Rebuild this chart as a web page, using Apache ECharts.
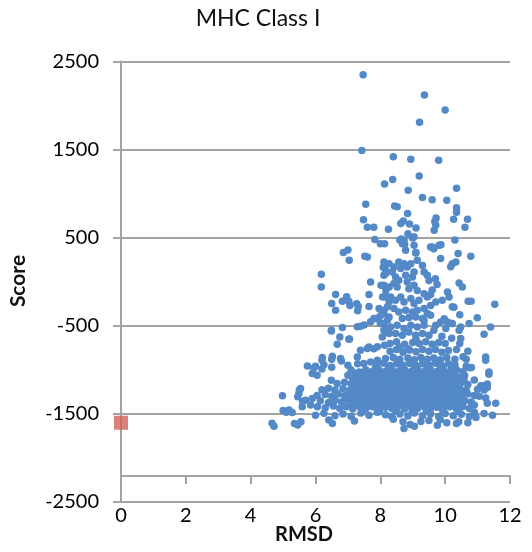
<!DOCTYPE html>
<html>
<head>
<meta charset="utf-8">
<script src="https://cdn.jsdelivr.net/npm/echarts@6/dist/echarts.min.js"></script>
<style>html,body{margin:0;padding:0;background:#fff}#c{width:532px;height:552px}</style>
</head>
<body>
<div id="c"></div>
<script>
var chartTitle = 'MHC Class I';
var xName = 'RMSD';
var yName = 'Score';
var xTicks = [0, 2, 4, 6, 8, 10, 12];
var yTicks = [-2500, -1500, -500, 500, 1500, 2500];

// native structure (red square)
var nativePoints = [[0, -1600]];

// decoys (blue dots): [RMSD, Score]
var decoyPoints = [
[7.47,2350],[9.36,2120],[10.0,1950],[9.21,1810],[7.43,1490],[8.40,1420],[8.94,1390],[9.80,1380],[9.20,1200],[8.38,1160],
[8.13,1110],[10.35,1060],[8.86,1040],[9.30,955],[9.60,930],[10.05,925],[7.55,880],[8.44,860],[8.52,850],[10.35,840],
[10.35,790],[8.84,775],[7.48,705],[9.72,725],[10.26,710],[10.69,710],[9.68,685],[7.60,620],[7.80,620],[8.25,595],
[8.63,660],[8.71,690],[8.90,655],[9.10,610],[9.71,640],[9.66,585],[10.61,620],[8.85,545],[9.00,500],[7.83,480],
[8.00,430],[8.13,430],[8.60,475],[8.75,425],[9.60,395],[9.87,420],[10.30,475],[7.00,360],[8.65,485],[8.99,500],
[8.73,470],[8.68,430],[8.78,357],[9.04,510],[9.04,415],[9.55,395],[9.65,375],[9.81,415],
[6.86,331],[7.04,244],[7.52,290],[7.60,280],[9.10,331],[9.86,263],[10.40,320],[10.79,289],
[9.09,325],[9.14,245],[10.33,225],[10.22,205],[10.17,170],
[8.11,225],[8.27,205],[8.42,167],[8.57,225],[8.63,150],[8.73,205],[8.83,167],[8.94,205],[9.04,110],[8.16,90],
[8.37,110],[8.47,55],[8.78,75],[8.99,55],[9.30,185],[9.35,110],[9.45,75],[8.09,165],[8.16,130],[8.11,75],
[9.50,15],[9.70,35],[9.75,-30],[9.60,-95],[9.55,-145],
[8.42,-20],[8.57,17],[8.52,-60],[8.83,-3],[8.88,-80],[9.04,-40],[9.14,-100],[8.27,-60],[8.11,-40],
[10.43,-13],[10.53,-59],[10.07,-115],[10.12,-172],[9.91,-210],[9.71,-230],[9.55,-270],[9.45,-172],[9.35,-135],
[6.18,85],[6.18,-59],[7.70,-3],[8.19,-172],[6.62,-145],[7.65,-145],[6.50,-247],[6.62,-323],
[6.83,-220],[6.96,-170],[7.03,-220],[7.06,-270],[7.27,-250],[7.32,-280],[7.30,-330],[7.65,-280],
[7.96,-305],[8.11,-323],[7.86,-417],[7.70,-455],[7.39,-505],[7.29,-510],[6.83,-520],[6.49,-550],
[8.16,-153],[8.32,-172],[8.47,-210],[8.63,-172],[8.73,-229],[8.94,-190],[9.04,-247],[9.19,-210],
[8.22,-285],[8.42,-304],[8.57,-342],[8.78,-323],[8.99,-342],[9.14,-323],[9.35,-304],[9.45,-360],
[8.11,-360],[8.27,-399],[8.68,-417],[8.88,-406],[9.09,-399],[9.30,-417],[9.55,-380],
[10.22,-285],[10.27,-290],[10.71,-221],[11.53,-255],[10.99,-410],[11.40,-513],[10.74,-474],
[10.48,-513],[10.22,-474],[10.07,-456],[9.86,-456],[9.71,-493],[10.02,-531],[10.43,-550],[9.65,-550],
[8.11,-474],[8.32,-513],[8.52,-493],[8.73,-531],[8.94,-493],[9.14,-513],[9.35,-493],
[8.22,-569],[8.47,-587],[8.68,-607],[8.88,-569],[9.09,-607],[9.30,-587],[9.50,-607],[10.48,-644],[11.20,-595],
[8.02,-40],[8.17,-95],[8.07,-172],[8.27,-229],[8.02,-380],[8.22,-437],[8.11,-550],[8.27,-587],[7.96,-406],[7.80,-417],
[10.45,-375],[10.80,-220],[9.97,-420],[10.20,-475],[9.35,-440],[7.50,-490],[8.00,-475],[8.20,-550],
[6.49,-558],[6.75,-626],[7.03,-652],[6.67,-709],[7.05,-650],[8.06,-626],[8.30,-700],[8.50,-680],[8.75,-710],
[9.00,-690],[9.20,-700],[9.40,-680],[9.60,-710],[9.80,-690],[10.00,-700],[10.20,-640],[10.45,-700],[9.10,-650],[9.90,-620],
[7.39,-777],[7.60,-758],[7.91,-739],[8.13,-720],[8.30,-790],[8.50,-770],[8.70,-800],[8.90,-775],[9.10,-795],[9.30,-770],
[9.50,-790],[9.70,-770],[9.90,-800],[10.10,-780],[10.35,-770],[10.70,-790],[7.65,-740],[8.60,-740],[8.85,-760],[7.80,-760],
[6.21,-860],[6.52,-845],[6.77,-871],[6.20,-890],[6.50,-880],[6.80,-900],[7.29,-853],[7.91,-890],[8.16,-871],[8.40,-860],
[8.60,-880],[8.85,-865],[9.05,-885],[9.25,-860],[9.45,-880],[9.65,-865],[9.85,-885],[10.05,-860],[10.30,-880],[10.55,-850],
[10.65,-880],[11.25,-890],[11.25,-853],
[5.75,-955],[6.00,-958],[6.26,-943],[7.00,-947],[7.30,-930],[7.49,-928],[7.70,-910],[7.90,-940],[8.10,-925],[8.30,-950],
[8.50,-930],[8.70,-945],[8.90,-925],[9.10,-950],[9.30,-930],[9.50,-945],[9.70,-925],[9.90,-950],[10.10,-930],[10.30,-945],[10.65,-960],
[7.10,-1003],[7.35,-1023],[7.55,-1000],[7.75,-1020],[7.95,-1000],[8.15,-1020],[8.35,-1000],[8.55,-1020],[8.75,-1000],[8.95,-1020],
[9.15,-1000],[9.35,-1020],[9.55,-1000],[9.75,-1020],[9.95,-1000],[10.15,-1020],[10.35,-1000],[10.55,-1020],[10.81,-973],[10.75,-975],
[5.95,-980],[6.20,-990],[6.50,-970],
[5.90,-1041],[6.05,-1060],[7.00,-1060],[7.20,-1080],[7.40,-1065],[7.60,-1085],[7.80,-1060],[8.00,-1080],[8.20,-1065],[8.40,-1085],
[8.60,-1060],[8.80,-1080],[9.00,-1065],[9.20,-1085],[9.40,-1060],[9.60,-1080],[9.80,-1065],[10.00,-1085],[10.20,-1060],[10.40,-1080],
[10.60,-1065],[11.35,-1050],[11.35,-1023],
[6.49,-1117],[6.67,-1154],[6.90,-1140],[7.10,-1160],[7.30,-1145],[7.50,-1165],[7.70,-1140],[7.90,-1160],[8.10,-1145],[8.30,-1165],
[8.50,-1140],[8.70,-1160],[8.90,-1145],[9.10,-1165],[9.30,-1140],[9.50,-1160],[9.70,-1145],[9.90,-1165],[10.10,-1140],[10.30,-1160],
[10.50,-1145],[10.70,-1165],[10.90,-1115],[11.10,-1180],[11.20,-1180],[11.30,-1160],
[5.50,-1230],[5.54,-1211],[6.20,-1225],[6.40,-1210],[6.60,-1230],[6.85,-1215],[7.05,-1235],[7.25,-1210],[7.45,-1230],[7.65,-1215],
[7.85,-1235],[8.05,-1210],[8.25,-1230],[8.45,-1215],[8.65,-1235],[8.85,-1210],[9.05,-1230],[9.25,-1215],[9.45,-1235],[9.65,-1210],
[9.85,-1230],[10.05,-1215],[10.25,-1235],[10.45,-1210],[10.65,-1230],[11.00,-1220],[11.20,-1230],[11.30,-1200],
[4.98,-1295],[5.45,-1305],[5.49,-1268],[6.05,-1290],[6.30,-1280],[6.50,-1300],[6.70,-1275],[6.90,-1295],[7.10,-1280],[7.30,-1300],
[7.50,-1275],[7.70,-1295],[7.90,-1280],[8.10,-1300],[8.30,-1275],[8.50,-1295],[8.70,-1280],[8.90,-1300],[9.10,-1275],[9.30,-1295],
[9.50,-1280],[9.70,-1300],[9.90,-1275],[10.10,-1295],[10.30,-1280],[10.50,-1300],[10.70,-1275],[10.90,-1290],
[5.60,-1360],[5.69,-1344],[5.90,-1325],[6.15,-1350],[6.40,-1370],[6.60,-1345],[6.80,-1365],[7.00,-1340],[7.20,-1370],[7.40,-1350],
[7.60,-1365],[7.80,-1340],[8.00,-1370],[8.20,-1350],[8.40,-1365],[8.60,-1340],[8.80,-1370],[9.00,-1350],[9.20,-1365],[9.40,-1340],
[9.60,-1370],[9.80,-1350],[10.00,-1365],[10.20,-1340],[10.40,-1370],[10.60,-1350],[10.80,-1365],[11.05,-1300],[11.25,-1320],
[5.59,-1420],[5.85,-1400],[6.06,-1420],[6.30,-1430],[6.55,-1410],[6.75,-1440],[6.95,-1420],[7.15,-1445],[7.35,-1415],[7.55,-1440],
[7.75,-1420],[7.95,-1445],[8.15,-1425],[8.35,-1440],[8.55,-1415],[8.75,-1445],[8.95,-1420],[9.15,-1440],[9.35,-1415],[9.55,-1445],
[9.75,-1425],[9.95,-1440],[10.15,-1420],[10.35,-1445],[10.55,-1415],[10.75,-1440],[10.90,-1400],[11.30,-1380],[11.56,-1380],
[5.00,-1460],[5.10,-1480],[5.18,-1457],[5.28,-1483],[6.00,-1514],[6.26,-1494],[6.60,-1520],[6.85,-1500],[7.10,-1530],[7.40,-1490],
[7.65,-1515],[7.90,-1480],[8.16,-1510],[8.35,-1530],[8.60,-1500],[8.85,-1525],[9.05,-1490],[9.30,-1520],[9.55,-1500],[9.80,-1530],
[10.00,-1495],[10.25,-1520],[10.50,-1505],[10.75,-1530],[10.90,-1480],
[4.72,-1640],[4.66,-1605],[5.35,-1610],[5.45,-1625],[5.55,-1590],[8.73,-1665],[8.92,-1620],[9.05,-1640],[9.25,-1585],[9.76,-1630],
[10.05,-1600],[10.35,-1610],[10.42,-1590],[10.70,-1600],[6.52,-1608],[6.41,-1570],[8.70,-1590],[9.50,-1575],[7.20,-1580],[8.40,-1560],
[10.95,-1540],[11.46,-1514],[11.20,-1495],[9.85,-1565],
[8.4,-1250],[8.9,-1190],[9.2,-1310],[9.6,-1130],[9.0,-1400],[8.6,-1320],[9.4,-1190],[9.8,-1420],[8.2,-1110],[9.7,-1250]
];

// extra decoys filling the dense core
var decoyCorePoints = [
[7.25,-1040],[7.47,-1045],[7.66,-1035],[7.88,-1042],[8.05,-1038],[8.27,-1046],[8.46,-1036],[8.68,-1044],[8.86,-1040],[9.07,-1035],
[9.26,-1045],[9.48,-1038],[9.66,-1042],[9.87,-1036],[10.06,-1044],[10.28,-1040],
[7.15,-1110],[7.36,-1105],[7.57,-1115],[7.76,-1108],[7.97,-1112],[8.16,-1104],[8.37,-1114],[8.56,-1106],[8.77,-1110],[8.96,-1115],
[9.17,-1105],[9.36,-1112],[9.57,-1108],[9.76,-1114],[9.97,-1106],[10.16,-1110],[10.38,-1105],[10.58,-1112],
[7.22,-1185],[7.43,-1190],[7.62,-1180],[7.83,-1188],[8.02,-1182],[8.23,-1192],[8.42,-1184],[8.63,-1186],[8.82,-1190],[9.03,-1180],
[9.22,-1188],[9.43,-1184],[9.62,-1190],[9.83,-1182],[10.02,-1186],[10.23,-1190],[10.42,-1180],
[7.18,-1255],[7.37,-1250],[7.58,-1260],[7.77,-1252],[7.98,-1258],[8.17,-1250],[8.38,-1262],[8.57,-1254],[8.78,-1256],[8.97,-1260],
[9.18,-1250],[9.37,-1258],[9.58,-1252],[9.77,-1260],[9.98,-1254],[10.17,-1256],[10.38,-1250],[10.58,-1258],
[7.08,-1320],[7.28,-1325],[7.47,-1316],[7.68,-1322],[7.87,-1318],[8.08,-1326],[8.27,-1318],[8.48,-1322],[8.67,-1316],[8.88,-1324],
[9.07,-1320],[9.28,-1326],[9.47,-1318],[9.68,-1322],[9.87,-1316],[10.08,-1324],[10.28,-1320],[10.48,-1326],
[7.12,-1390],[7.33,-1395],[7.52,-1386],[7.73,-1392],[7.92,-1388],[8.13,-1396],[8.32,-1388],[8.53,-1392],[8.72,-1386],[8.93,-1394],
[9.12,-1390],[9.33,-1396],[9.52,-1388],[9.73,-1392],[9.92,-1386],[10.13,-1394],[10.32,-1390],
[7.45,-1470],[7.97,-1475],[8.47,-1466],[8.98,-1472],[9.42,-1468],[9.93,-1474],[10.40,-1470],
[7.85,-975],[8.25,-980],[8.65,-972],[9.05,-978],[9.45,-974],[9.85,-980],[10.20,-976]
];

var gridColor = '#a3a3a3';
var chart = echarts.init(document.getElementById('c'), null, {renderer: 'canvas'});
var tickFont = {fontFamily: 'Lato', fontSize: 20, color: '#000'};
chart.setOption({
  animation: false,
  backgroundColor: '#fff',
  grid: {left: 121, right: 22, top: 61.5, bottom: 50},
  xAxis: {
    type: 'value', min: xTicks[0], max: xTicks[xTicks.length - 1], interval: 2,
    offset: -26,
    axisLine: {show: true, onZero: false, lineStyle: {color: gridColor, width: 2}},
    axisTick: {show: true, length: 8, lineStyle: {color: gridColor, width: 2}},
    splitLine: {show: false},
    axisLabel: Object.assign({margin: 30, formatter: function (v) { return String(v); }}, tickFont)
  },
  yAxis: {
    type: 'value', min: yTicks[0], max: yTicks[yTicks.length - 1], interval: 1000,
    axisLine: {show: true, onZero: false, lineStyle: {color: gridColor, width: 2}},
    axisTick: {show: true, length: 8, lineStyle: {color: gridColor, width: 2}},
    splitLine: {show: true, lineStyle: {color: gridColor, width: 2}},
    axisLabel: Object.assign({margin: 22, formatter: function (v) { return String(v); }}, tickFont)
  },
  graphic: [
    {type: 'text', x: 258, y: 19, style: {text: chartTitle, font: '23px Lato', fill: '#111', textAlign: 'center', textVerticalAlign: 'middle'}},
    {type: 'text', x: 304, y: 535, style: {text: xName, font: 'bold 20px Lato', fill: '#111', textAlign: 'center', textVerticalAlign: 'middle'}},
    {type: 'text', x: 18, y: 281, rotation: Math.PI / 2, style: {text: yName, font: 'bold 21px Lato', fill: '#111', textAlign: 'center', textVerticalAlign: 'middle'}}
  ],
  series: [
    {type: 'scatter', data: decoyPoints.concat(decoyCorePoints), symbol: 'circle', symbolSize: 7.5,
     itemStyle: {color: '#5489c8', opacity: 1}, z: 3},
    {type: 'scatter', data: nativePoints, symbol: 'rect', symbolSize: 14,
     itemStyle: {color: '#d2625a'}, z: 4}
  ]
});
</script>
</body>
</html>
